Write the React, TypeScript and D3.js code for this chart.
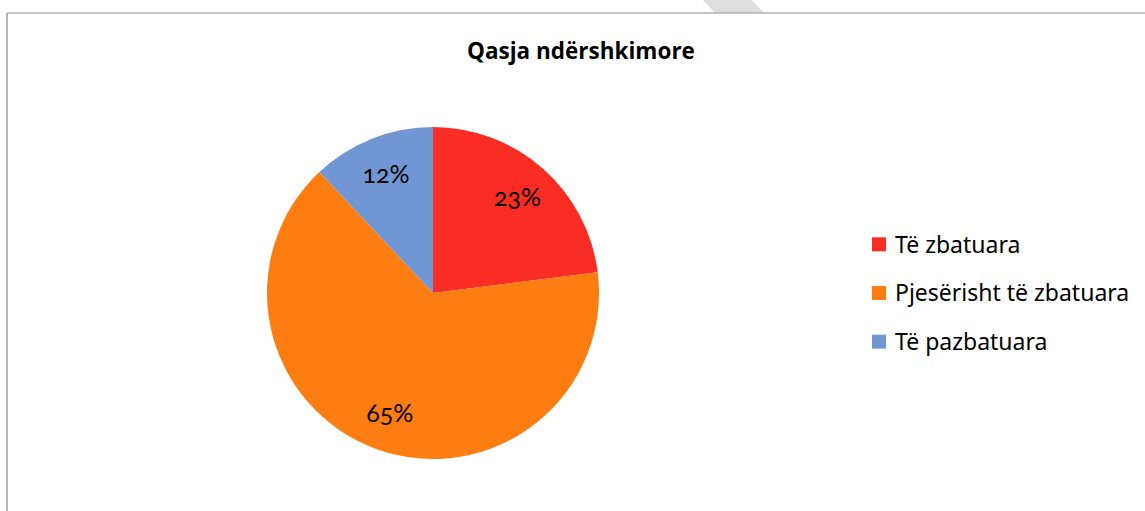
import React from "react";
import * as d3 from "d3";

const categories = ["Të zbatuara", "Pjesërisht të zbatuara", "Të pazbatuara"];
const values = [23, 65, 12];
const labels = ["23%", "65%", "12%"];
const colors = ["#F92D23", "#FD7D10", "#7097D4"];
const title = "Qasja ndërshkimore";

export default function App() {
  const W = 1145, H = 511;
  const cx = 433, cy = 293, r = 166;
  const pie = d3.pie<number>().sort(null).value((d) => d)(values);
  const arc = d3.arc<d3.PieArcDatum<number>>().innerRadius(0).outerRadius(r);
  const labelArc = d3.arc<d3.PieArcDatum<number>>().innerRadius(r * 0.77).outerRadius(r * 0.77);
  const legendY = d3.scaleBand<string>().domain(categories).range([220, 366]);

  return (
    <svg width={W} height={H} style={{ position: "absolute", left: 0, top: 0, display: "block" }}>
      <rect width={W} height={H} fill="#fff" />
      <polygon points="703,0 752,0 764,13 715,13" fill="#dedede" />
      <line x1={7} y1={13} x2={W} y2={13} stroke="#b3b3b3" strokeWidth={1.5} />
      <line x1={7} y1={13} x2={7} y2={H} stroke="#b3b3b3" strokeWidth={2} />
      <text x={581} y={59} textAnchor="middle" fontFamily="'Open Sans', sans-serif" fontWeight="bold" fontSize={22.5} fill="#000">
        {title}
      </text>
      <g transform={`translate(${cx},${cy})`}>
        {pie.map((p, i) => (
          <path key={i} d={arc(p) as string} fill={colors[i]} />
        ))}
        {pie.map((p, i) => {
          const [x, y] = labelArc.centroid(p);
          return (
            <text key={"l" + i} x={x} y={y} dy="0.35em" textAnchor="middle"
              fontFamily="Lato, sans-serif" fontSize={25} fill="#000"
              style={{ fontVariantNumeric: "oldstyle-nums" }}>
              {labels[i]}
            </text>
          );
        })}
      </g>
      {categories.map((c, i) => {
        const y = (legendY(c) as number) + legendY.bandwidth() / 2;
        return (
          <g key={"g" + i}>
            <rect x={872} y={y - 7} width={14} height={14} fill={colors[i]} />
            <text x={895} y={y} dy="0.36em" fontFamily="'Noto Sans', sans-serif" fontSize={23} fill="#000">
              {c}
            </text>
          </g>
        );
      })}
    </svg>
  );
}
